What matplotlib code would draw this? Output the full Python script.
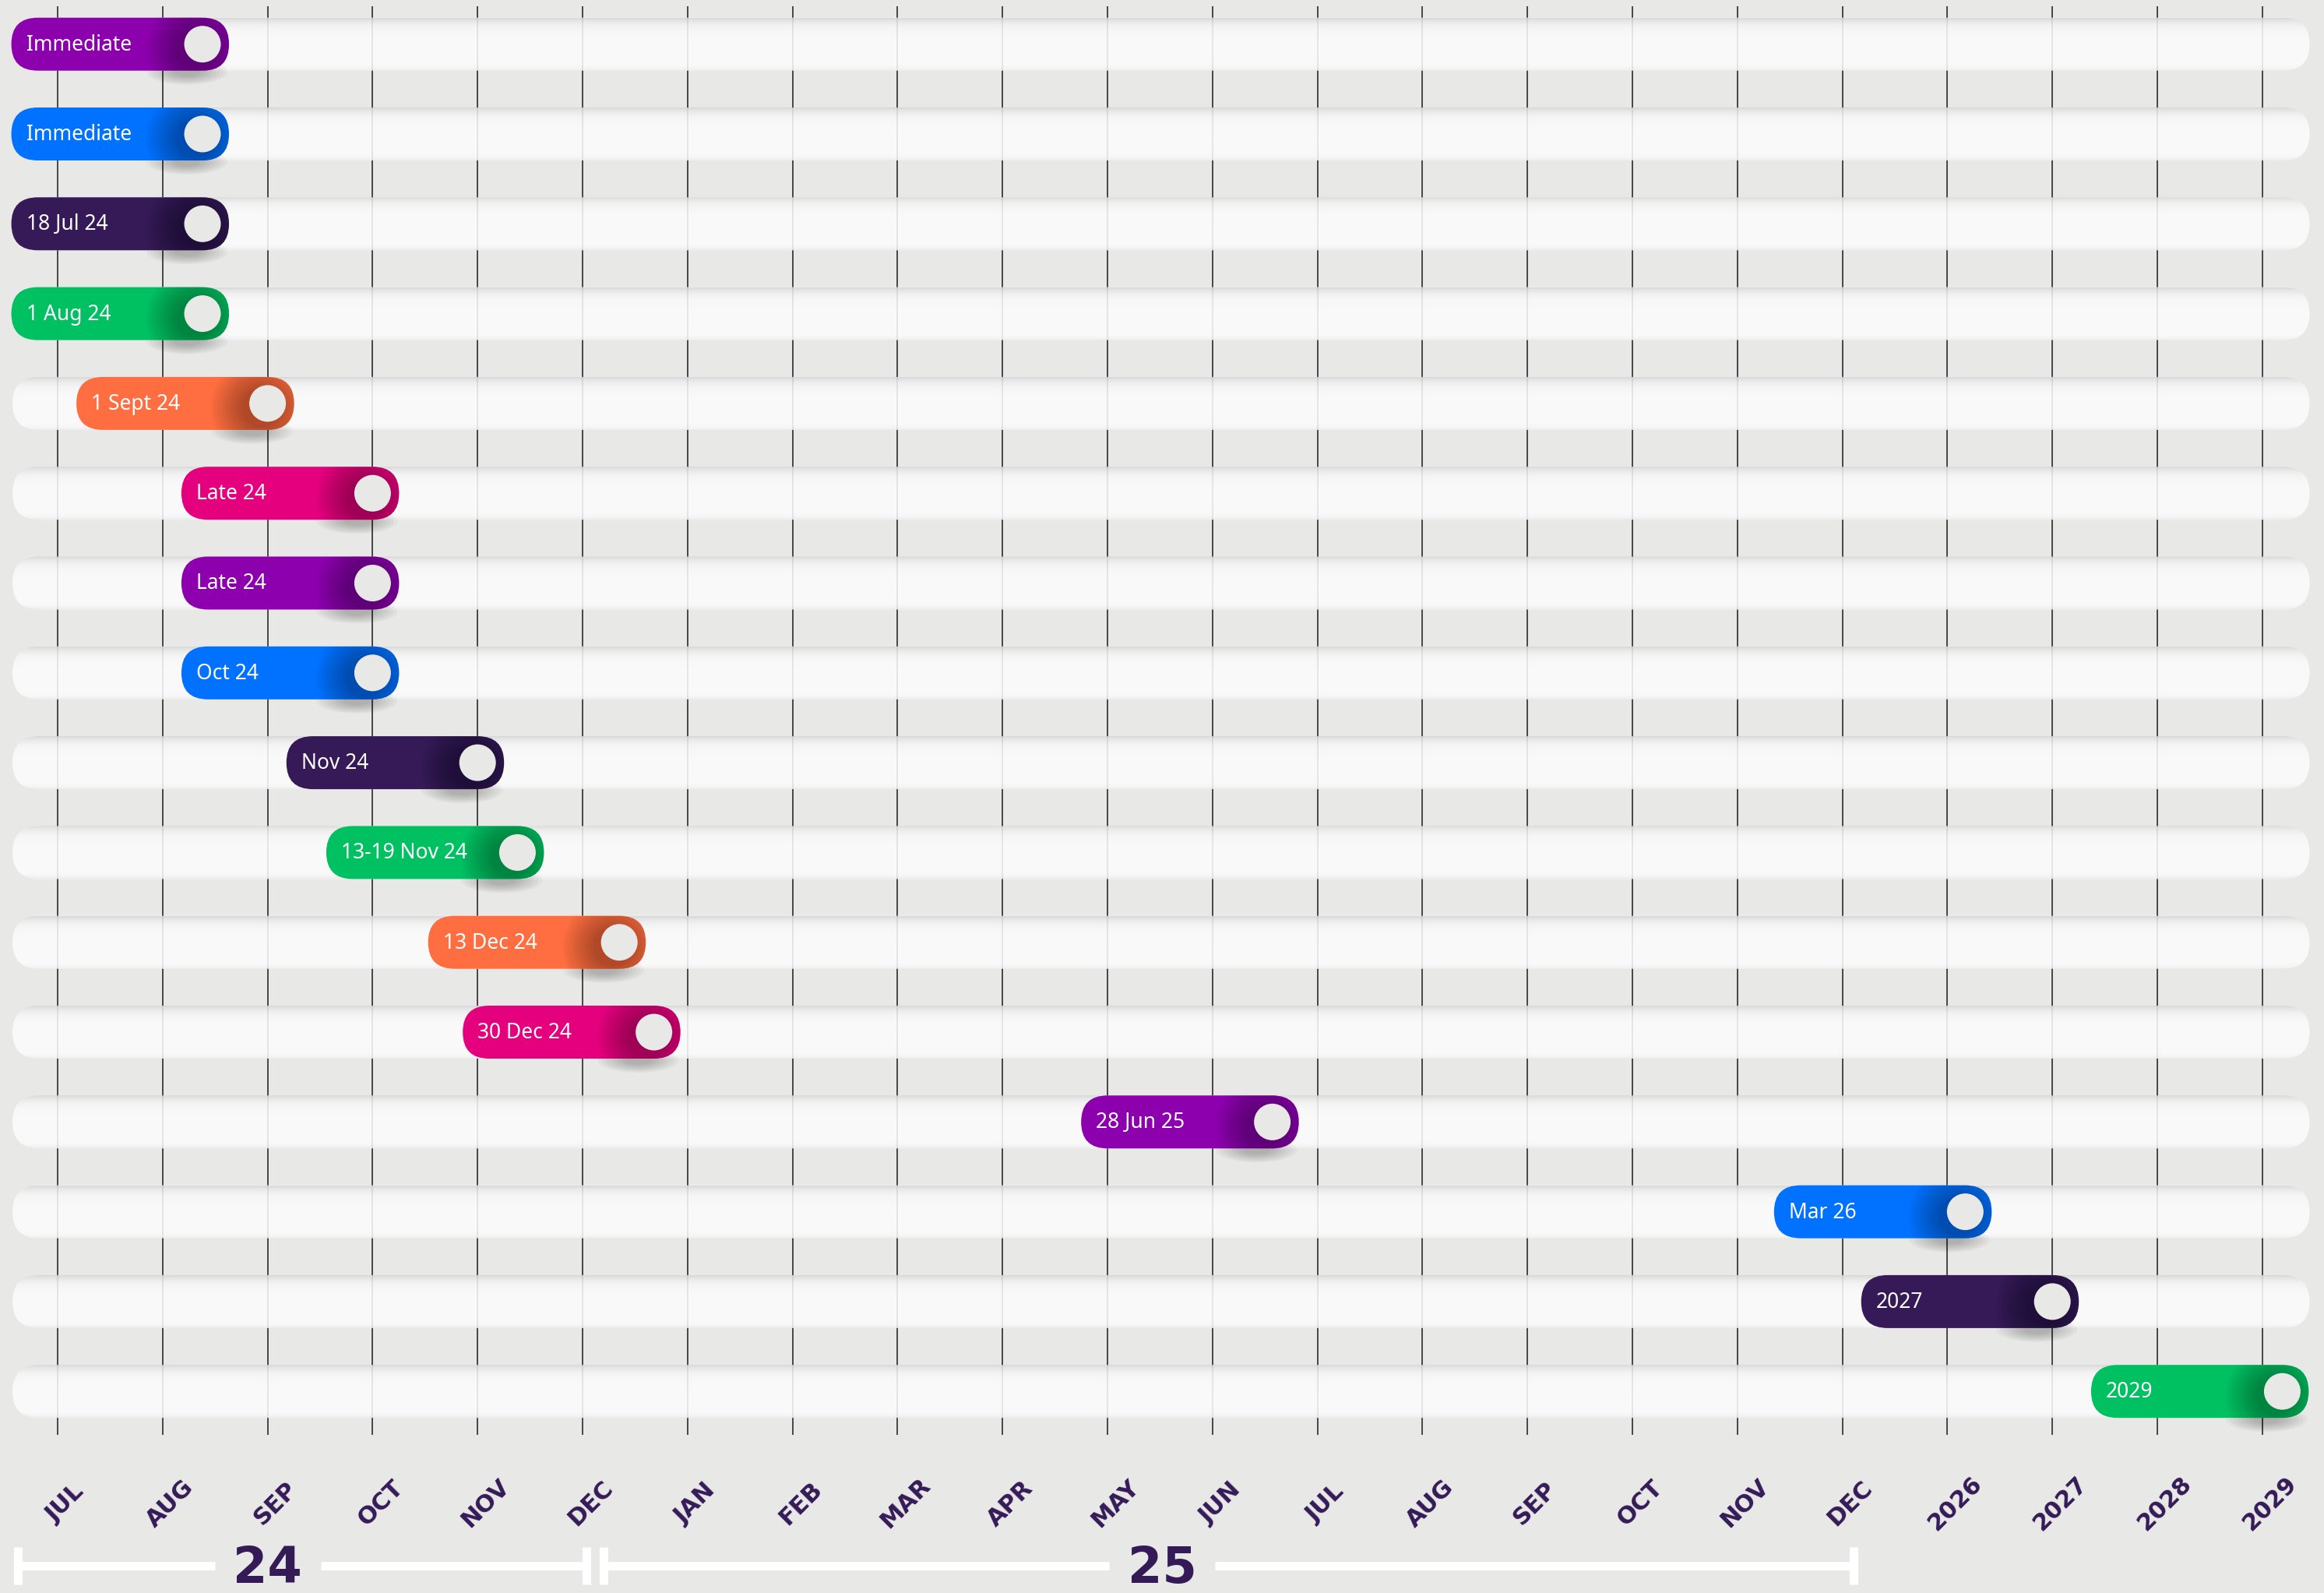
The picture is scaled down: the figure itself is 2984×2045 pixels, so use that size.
import matplotlib.pyplot as plt
import numpy as np
from matplotlib.patches import FancyBboxPatch, Ellipse

# milestone pills, top row first
milestones = ["Immediate", "Immediate", "18 Jul 24", "1 Aug 24", "1 Sept 24",
              "Late 24", "Late 24", "Oct 24", "Nov 24", "13-19 Nov 24",
              "13 Dec 24", "30 Dec 24", "28 Jun 25", "Mar 26", "2027", "2029"]
# knob position on the timeline, months after JUL 24 (first four pinned at the start)
knob_pos = [1.38, 1.38, 1.38, 1.38, 2.0, 3.0, 3.0, 3.0, 4.0, 4.38,
            5.35, 5.68, 11.57, 18.17, 19.0, 21.19]
tick_labels = ["JUL", "AUG", "SEP", "OCT", "NOV", "DEC", "JAN", "FEB", "MAR",
               "APR", "MAY", "JUN", "JUL", "AUG", "SEP", "OCT", "NOV", "DEC",
               "2026", "2027", "2028", "2029"]
year_labels = ["24", "25"]
year_spans = [(-0.375, 5.04), (5.2, 17.11)]
year_centers = [2.0, 10.52]

palette = ["#8c00ae", "#0072ff", "#351a57", "#00c162", "#ff6e40", "#e5007e"]
BG = "#e8e8e6"
DARK = "#341a57"

W, H = 2984, 2045
PX_X = 134.8   # pixels per month
PX_Y = 115.3   # pixels per row
X0_PX, Y0_PX = 74, 56.7

HH = 68 / PX_Y           # pill / track height in rows
R = 34 / PX_X            # end radius in months
ASP = PX_X / PX_Y
TRACK = (-0.43, 21.45)


def rounded(x0, x1, yc, **kw):
    return FancyBboxPatch((x0, yc - HH / 2), x1 - x0, HH,
                          boxstyle=f"round,pad=0,rounding_size={R}",
                          mutation_aspect=ASP, linewidth=0, **kw)


fig = plt.figure(figsize=(W / 100, H / 100), dpi=100, facecolor=BG)
ax = fig.add_axes([0, 0, 1, 1])
ax.set_facecolor(BG)
ax.axis("off")

# month grid
ax.vlines(range(len(tick_labels)), (8 - Y0_PX) / PX_Y, (1842 - Y0_PX) / PX_Y,
          color="#3a3a3a", lw=1.3, zorder=1)

# track top shading profile
t = np.arange(68)
alpha = 0.13 * np.exp(-t / 7) + 0.05 * np.exp(-(67 - t) / 3)
grad = np.zeros((68, 1, 4))
grad[:, 0, 3] = alpha

for i, (label, pos) in enumerate(zip(milestones, knob_pos)):
    track = rounded(TRACK[0], TRACK[1], i, facecolor="#fcfcfc", alpha=0.88, zorder=2)
    ax.add_patch(track)
    im = ax.imshow(grad, extent=(TRACK[0], TRACK[1], i + HH / 2, i - HH / 2),
                   origin="upper", aspect="auto", interpolation="bilinear", zorder=3)
    im.set_clip_path(track)

    x0, x1 = pos - 1.821, pos + R
    color = palette[i % len(palette)]

    # drop shadow under the knob end
    for k in range(8):
        ax.add_patch(Ellipse((pos - 20 / PX_X, i + 36 / PX_Y),
                             2 * (52 - 5 * k) / PX_X, 2 * (16 - 1.5 * k) / PX_Y,
                             facecolor="black", alpha=0.03, lw=0, zorder=4))

    pill = rounded(x0, x1, i, facecolor=color, zorder=5)
    ax.add_patch(pill)

    # dark halo round the knob
    for k in range(12):
        rad = 25 + 3.5 * k
        halo = Ellipse((pos - 9 / PX_X, i + 6 / PX_Y), 2 * rad / PX_X, 2 * rad / PX_Y,
                       facecolor="black", alpha=0.026, lw=0, zorder=6)
        ax.add_patch(halo)
        halo.set_clip_path(pill)

    ax.add_patch(Ellipse((pos, i), 2 * 23.5 / PX_X, 2 * 23.5 / PX_Y,
                         facecolor=BG, lw=0, zorder=7))
    ax.text(x0 + 19 / PX_X, i + 1 / PX_Y, label, color="white", fontsize=19,
            family="Noto Sans", ha="left", va="center", zorder=8)

# month labels
y_lab = (1930 - Y0_PX) / PX_Y
for j, lab in enumerate(tick_labels):
    ax.text(j + 10 / PX_X, y_lab, lab, rotation=45, ha="center", va="center",
            fontsize=22, fontweight="bold", family="DejaVu Sans", color=DARK)

# year brackets
y_bar = (2010 - Y0_PX) / PX_Y
cap = 24 / PX_Y
lw = 11 * 72 / 100
for (a, b), c, lab in zip(year_spans, year_centers, year_labels):
    ax.plot([a, c - 0.505], [y_bar, y_bar], color="white", lw=lw, solid_capstyle="butt")
    ax.plot([c + 0.505, b], [y_bar, y_bar], color="white", lw=lw, solid_capstyle="butt")
    for e in (a, b):
        ax.plot([e, e], [y_bar - cap, y_bar + cap], color="white", lw=lw,
                solid_capstyle="butt")
    ax.text(c, y_bar + 4 / PX_Y, lab, ha="center", va="center", fontsize=46,
            fontweight="bold", family="DejaVu Sans", color=DARK)

ax.set_xlim(-X0_PX / PX_X, (W - X0_PX) / PX_X)
ax.set_ylim((H - Y0_PX) / PX_Y, -Y0_PX / PX_Y)

fig.savefig("out.png", dpi=100, facecolor=BG)
